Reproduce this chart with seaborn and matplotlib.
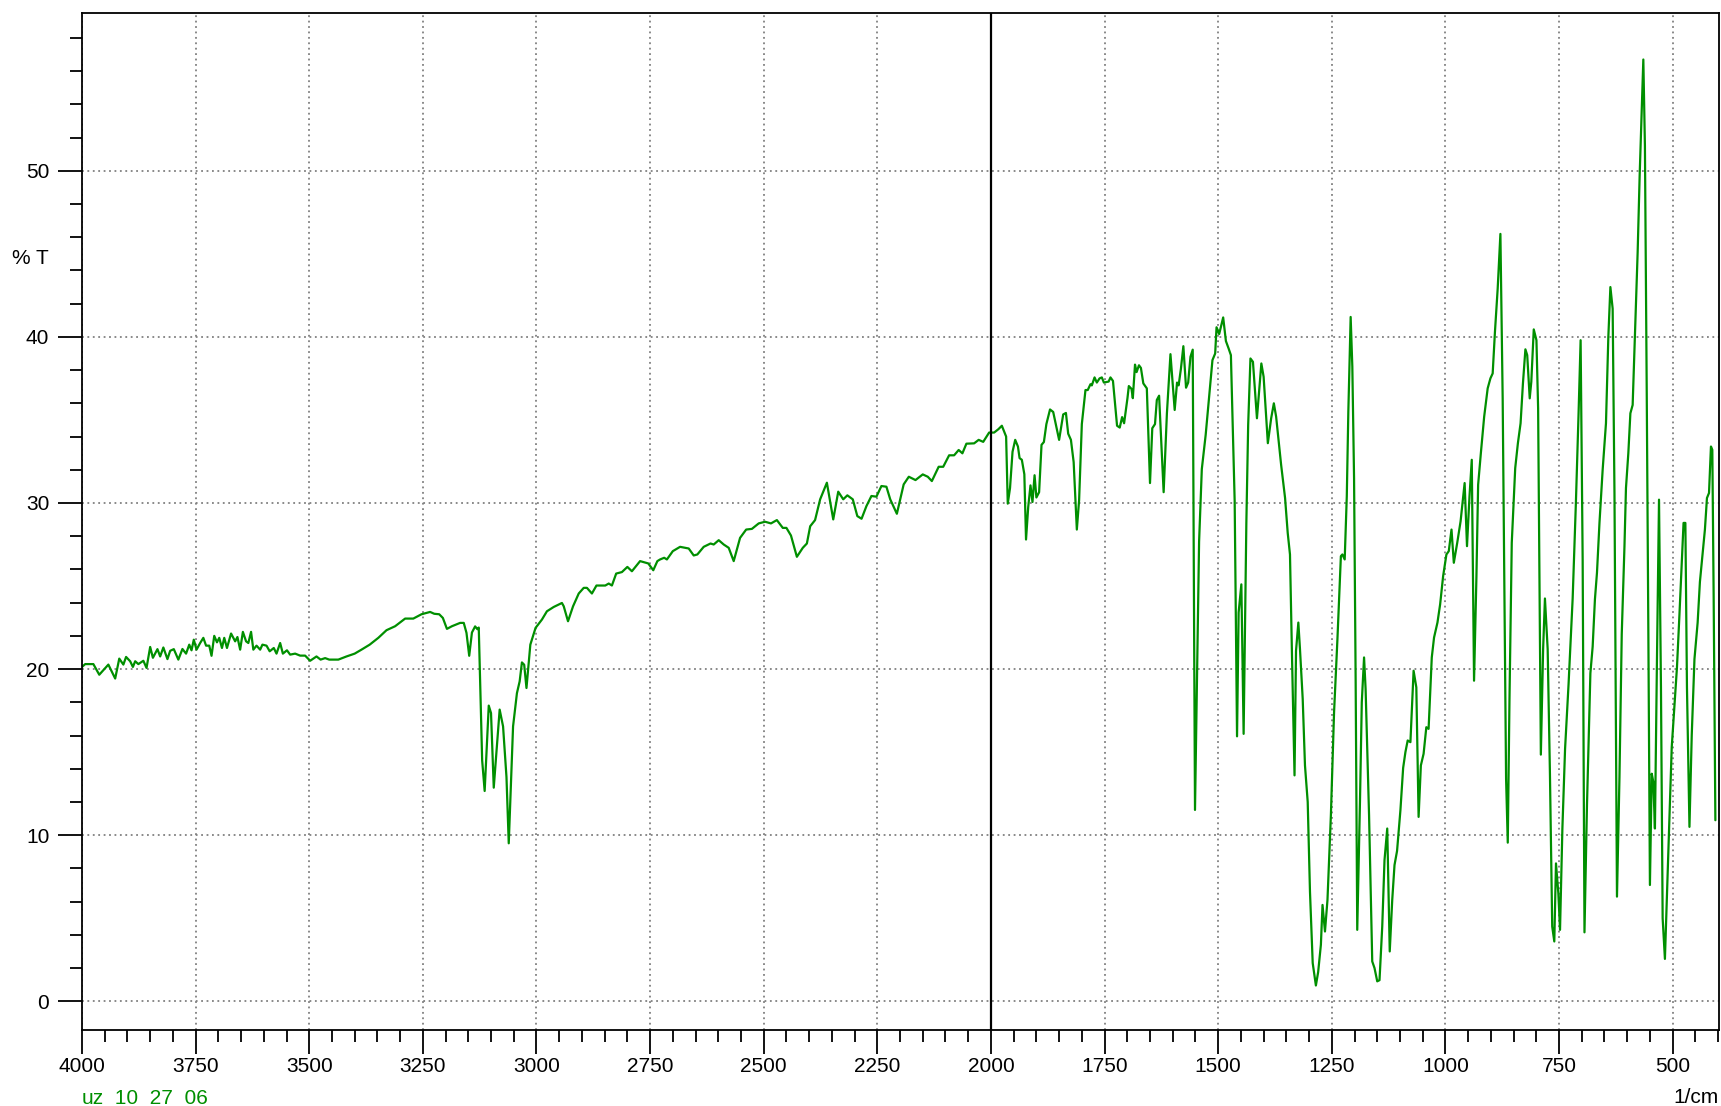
import matplotlib
matplotlib.use('Agg')
import matplotlib.pyplot as plt
from matplotlib.ticker import MultipleLocator
import seaborn as sns
import pandas as pd

# ── Spectrum data ────────────────────────────────────────────────────────────
wavenumber = [
    4000, 3993, 3975, 3962, 3942, 3927, 3918, 3909, 3903, 3894, 3888, 3883, 3876, 3865, 3858,
    3850, 3844, 3834, 3828, 3821, 3812, 3806, 3798, 3788, 3779, 3771, 3764, 3759, 3754, 3748,
    3740, 3733, 3727, 3720, 3715, 3709, 3703, 3698, 3692, 3687, 3681, 3672, 3663, 3658, 3652,
    3646, 3639, 3634, 3628, 3623, 3616, 3608, 3603, 3594, 3587, 3578, 3572, 3564, 3558, 3549,
    3542, 3531, 3520, 3509, 3498, 3484, 3475, 3465, 3456, 3436, 3418, 3400, 3385, 3367, 3348,
    3330, 3311, 3289, 3271, 3253, 3234, 3225, 3214, 3206, 3197, 3186, 3168, 3160, 3154, 3148,
    3142, 3135, 3130, 3127, 3119.5, 3114, 3105, 3100, 3094, 3081, 3073.5, 3066, 3061, 3051.5,
    3043, 3037, 3032, 3027, 3022, 3013.5, 3002, 2988, 2977, 2962, 2944, 2940, 2930.6, 2919.5,
    2907, 2896, 2889, 2878, 2868, 2848.6, 2841, 2834, 2824.6, 2812, 2800, 2790, 2772, 2754,
    2743, 2734, 2728, 2719, 2713, 2700, 2684, 2665, 2654, 2646, 2632, 2617, 2610, 2599, 2588,
    2577, 2566, 2552, 2538.6, 2526, 2511, 2497, 2484, 2471, 2458, 2450, 2440, 2427, 2414, 2405,
    2397.7, 2387, 2375.8, 2361, 2347, 2336, 2325, 2316, 2304, 2294, 2284.7, 2274, 2263, 2252,
    2241, 2230, 2221.6, 2207, 2192, 2180.7, 2166, 2150, 2139, 2130, 2115, 2105, 2092, 2081,
    2071, 2062.8, 2054, 2037, 2027, 2017, 2004, 1993, 1983.7, 1976, 1966.6, 1963, 1958, 1952.5,
    1946.6, 1940.6, 1937, 1932, 1926.5, 1922.8, 1918, 1913, 1908.6, 1904, 1900, 1894, 1888.7,
    1883.5, 1878, 1870, 1863, 1850, 1841, 1835, 1830, 1824, 1818, 1811, 1806, 1800, 1792, 1787,
    1781, 1778, 1772, 1767, 1761, 1756, 1751.5, 1741, 1737, 1731.5, 1722.5, 1716.6, 1711.4,
    1707, 1699.6, 1696.6, 1690.7, 1687.8, 1683, 1679.5, 1674.3, 1670, 1664.7, 1657, 1650, 1645,
    1639, 1635, 1630, 1620, 1612.8, 1605, 1595.7, 1590.5, 1587, 1582, 1576.6, 1570.7, 1566,
    1561, 1556, 1551, 1542, 1536, 1527.5, 1520, 1512.6, 1506.6, 1503.6, 1497.8, 1489, 1483,
    1477, 1472, 1463.7, 1458.5, 1455, 1449, 1444, 1438, 1434, 1429, 1423.5, 1414.7, 1405, 1400,
    1390.7, 1383.4, 1377.5, 1372.5, 1361.5, 1352.8, 1347, 1342, 1337.5, 1332, 1328.7, 1323.6,
    1320, 1314, 1309, 1303, 1298, 1292, 1285, 1280, 1274, 1270.4, 1265, 1259.5, 1252, 1245,
    1237.6, 1230, 1226.7, 1221.6, 1217, 1213.6, 1208.5, 1204.8, 1201, 1197.5, 1194, 1188, 1184,
    1179, 1175.6, 1168, 1161, 1156, 1150, 1145, 1139, 1134, 1128, 1122.5, 1117, 1112, 1106.4,
    1099, 1093, 1088, 1083, 1077, 1070, 1064, 1059, 1054, 1048, 1042, 1037, 1030, 1025, 1017.5,
    1011.6, 1005, 997.8, 992.6, 986.6, 981.5, 974, 966.6, 957.7, 952.5, 947, 942, 937, 931.8,
    928, 922, 914.7, 907, 901, 896, 891, 885, 879, 874, 870, 866.5, 862.8, 859, 854, 846.4,
    840.5, 834.6, 829.4, 824, 820, 814.5, 811, 805.6, 799.7, 796, 790, 785, 781, 775, 770, 765,
    760.4, 756.7, 751.5, 747.8, 742.6, 736.7, 729, 720, 712.9, 707, 702.5, 698, 694, 688.5, 681,
    676, 671, 666.5, 661, 654, 646.7, 641.5, 637, 632, 628, 622.5, 617, 612, 606, 602.7, 597.5,
    593, 588, 583, 577, 572.6, 568, 564.5, 561, 557, 553.5, 550, 546, 542.5, 539, 534.5, 530,
    525.7, 522, 517, 512.5, 507, 502, 496, 490.5, 485, 479.5, 476, 472, 468.5, 463, 458, 452,
    445, 440, 434, 429, 424.5, 420, 415.7, 412.7, 409.8, 406,
]
transmittance = [
    20.13, 20.3, 20.3, 19.66, 20.27, 19.43, 20.63, 20.27, 20.73, 20.47, 20.13, 20.47, 20.3, 20.5, 20.07,
    21.33, 20.68, 21.2, 20.76, 21.3, 20.6, 21.1, 21.2, 20.57, 21.21, 20.93, 21.47, 21.13, 21.77, 21.17,
    21.57, 21.88, 21.41, 21.41, 20.8, 22.0, 21.61, 21.88, 21.27, 21.88, 21.27, 22.14, 21.67, 21.93, 21.17,
    22.24, 21.67, 21.57, 22.24, 21.17, 21.41, 21.17, 21.47, 21.41, 21.07, 21.27, 20.93, 21.57, 20.93, 21.13,
    20.87, 20.93, 20.81, 20.81, 20.5, 20.76, 20.57, 20.66, 20.57, 20.57, 20.76, 20.93, 21.17, 21.47, 21.88,
    22.34, 22.58, 23.04, 23.04, 23.3, 23.44, 23.33, 23.3, 23.08, 22.42, 22.58, 22.78, 22.78, 22.18, 20.8,
    22.2, 22.57, 22.4, 22.5, 14.5, 12.66, 17.8, 17.35, 12.86, 17.56, 16.55, 13.5, 9.51, 16.55,
    18.55, 19.26, 20.4, 20.26, 18.86, 21.47, 22.48, 22.98, 23.48, 23.74, 23.98, 23.78, 22.88, 23.78,
    24.55, 24.89, 24.89, 24.55, 25.03, 25.03, 25.15, 25.03, 25.75, 25.84, 26.15, 25.89, 26.5, 26.36,
    25.95, 26.5, 26.6, 26.7, 26.6, 27.1, 27.36, 27.26, 26.84, 26.9, 27.36, 27.56, 27.5, 27.76, 27.5,
    27.3, 26.5, 27.9, 28.4, 28.44, 28.77, 28.87, 28.77, 28.97, 28.5, 28.5, 28.04, 26.76, 27.3, 27.56,
    28.6, 28.97, 30.22, 31.22, 29.01, 30.68, 30.22, 30.46, 30.22, 29.21, 29.05, 29.81, 30.42, 30.38,
    31.02, 30.98, 30.22, 29.35, 31.12, 31.58, 31.38, 31.72, 31.58, 31.32, 32.18, 32.18, 32.87, 32.87,
    33.19, 32.99, 33.57, 33.59, 33.8, 33.68, 34.24, 34.24, 34.44, 34.65, 34.0, 29.96, 30.9, 33.08,
    33.8, 33.4, 32.7, 32.6, 31.73, 27.8, 29.75, 31.06, 30.06, 31.67, 30.33, 30.65, 33.5,
    33.67, 34.75, 35.63, 35.48, 33.8, 35.33, 35.42, 34.17, 33.8, 32.46, 28.4, 30.17, 34.75, 36.8, 36.8,
    37.15, 37.08, 37.56, 37.25, 37.5, 37.56, 37.25, 37.31, 37.56, 37.35, 34.65, 34.54, 35.17,
    34.8, 36.31, 37.04, 36.87, 36.31, 38.33, 37.88, 38.29, 38.13, 37.2, 36.9, 31.2, 34.5,
    34.75, 36.2, 36.46, 30.65, 35.4, 38.96, 35.6, 37.25, 37.08, 38.08, 39.44, 36.94, 37.25,
    38.8, 39.23, 11.52, 27.67, 32.04, 34.1, 36.4, 38.6, 39.0, 40.58, 40.17, 41.17, 39.75,
    39.3, 38.9, 30.1, 15.95, 23.4, 25.1, 16.1, 28.8, 34.7, 38.7, 38.5, 35.1, 38.4, 37.6,
    33.6, 35.1, 36.0, 35.2, 32.3, 30.3, 28.2, 26.9, 20.7, 13.6, 21.1, 22.8,
    21.2, 18.2, 14.2, 12.0, 6.6, 2.3, 0.95, 1.76, 3.4, 5.8, 4.2, 6.1, 11.2, 17.4,
    21.8, 26.8, 26.9, 26.6, 30.4, 35.5, 41.2, 38.2, 31.5, 19.3, 4.3, 12.0, 18.0,
    20.7, 18.8, 11.2, 2.4, 2.0, 1.2, 1.27, 4.5, 8.5, 10.4, 3.0, 6.1, 8.2, 9.05,
    11.5, 14.05, 15.0, 15.7, 15.6, 19.9, 18.9, 11.1, 14.2, 14.9, 16.5, 16.4, 20.7, 21.9, 22.8,
    23.9, 25.6, 26.9, 27.1, 28.4, 26.4, 27.6, 28.9, 31.2, 27.4, 30.4, 32.6, 19.3, 25.5,
    31.1, 33.0, 35.2, 36.9, 37.5, 37.8, 40.3, 42.9, 46.2, 36.3, 24.2, 13.4, 9.55, 18.2, 27.6, 32.1,
    33.6, 34.8, 37.2, 39.25, 38.9, 36.3, 37.3, 40.45, 39.8, 35.7, 14.85, 21.2, 24.25, 21.2, 13.7, 4.5,
    3.6, 8.3, 6.5, 4.3, 10.4, 15.2, 19.1, 24.25, 30.0, 35.4, 39.8, 26.6, 4.15, 11.8, 19.75,
    21.35, 24.2, 25.8, 28.8, 32.0, 34.8, 40.0, 43.0, 41.7, 30.6, 6.3, 13.5, 22.1, 27.4, 30.9, 33.0,
    35.4, 35.9, 40.1, 45.1, 49.7, 53.6, 56.7, 51.5, 36.6, 22.4, 7.0, 13.7, 13.2, 10.4, 20.6, 30.2,
    18.9, 5.0, 2.55, 6.45, 11.1, 15.3, 17.8, 20.1, 23.3, 26.7, 28.8, 28.8, 18.9, 10.5, 16.0, 20.6,
    22.8, 25.25, 27.0, 28.4, 30.3, 30.6, 33.4, 33.2, 24.5, 10.9,
]

x_major = [4000, 3750, 3500, 3250, 3000, 2750, 2500, 2250, 2000, 1750, 1500, 1250, 1000, 750, 500]
y_major = [0, 10, 20, 30, 40, 50]

df = pd.DataFrame({'wavenumber': wavenumber, 'T': transmittance})

# ── Style ────────────────────────────────────────────────────────────────────
sns.set_style('white')
plt.rcParams['font.family'] = ['Liberation Sans', 'DejaVu Sans']
plt.rcParams['text.color'] = 'black'
plt.rcParams['xtick.color'] = 'black'
plt.rcParams['ytick.color'] = 'black'

GREEN = '#008f00'
FS = 15

fig = plt.figure(figsize=(17.21, 11.06), dpi=100)
ax = fig.add_axes([82 / 1721, 1 - 1029.5 / 1106, (1719 - 82) / 1721, (1029.5 - 13) / 1106])

sns.lineplot(data=df, x='wavenumber', y='T', ax=ax, color=GREEN, linewidth=1.6,
             sort=False, estimator=None)
ax.axvline(2000, color='black', linewidth=1.6, zorder=3)

# ── Axes ─────────────────────────────────────────────────────────────────────
ax.set_xlim(4000, 398)
ax.set_ylim(-1.7, 59.5)
ax.set_xticks(x_major)
ax.set_xticklabels([str(v) for v in x_major])
ax.set_yticks(y_major)
ax.set_yticklabels([str(v) for v in y_major])
ax.xaxis.set_minor_locator(MultipleLocator(50))
ax.yaxis.set_minor_locator(MultipleLocator(2))

ax.tick_params(axis='both', which='major', direction='out', length=17.5, width=1.3,
               labelsize=FS, color='black', labelcolor='black',
               bottom=True, left=True, top=False, right=False)
ax.tick_params(axis='both', which='minor', direction='out', length=8.3, width=1.3,
               color='black', bottom=True, left=True, top=False, right=False)
ax.tick_params(axis='x', which='major', pad=2.5)
ax.tick_params(axis='y', which='major', pad=6)

for side in ['left', 'right', 'top', 'bottom']:
    ax.spines[side].set_visible(True)
    ax.spines[side].set_color('black')
    ax.spines[side].set_linewidth(1.3)

ax.grid(True, which='major', color='#808080', linestyle=(0, (1, 2)), linewidth=1.3)
ax.set_xlabel('')
ax.set_ylabel('')

# ── Annotations ──────────────────────────────────────────────────────────────
fig.text(30 / 1721, 1 - 258 / 1106, '% T', fontsize=FS, color='black', ha='center', va='center')
fig.text(82 / 1721, 2 / 1106, 'uz_10_27_06', fontsize=FS, color=GREEN, ha='left', va='baseline')
fig.text(1719 / 1721, 3 / 1106, '1/cm', fontsize=FS, color='black', ha='right', va='baseline')

plt.savefig('out.png', dpi=100)
